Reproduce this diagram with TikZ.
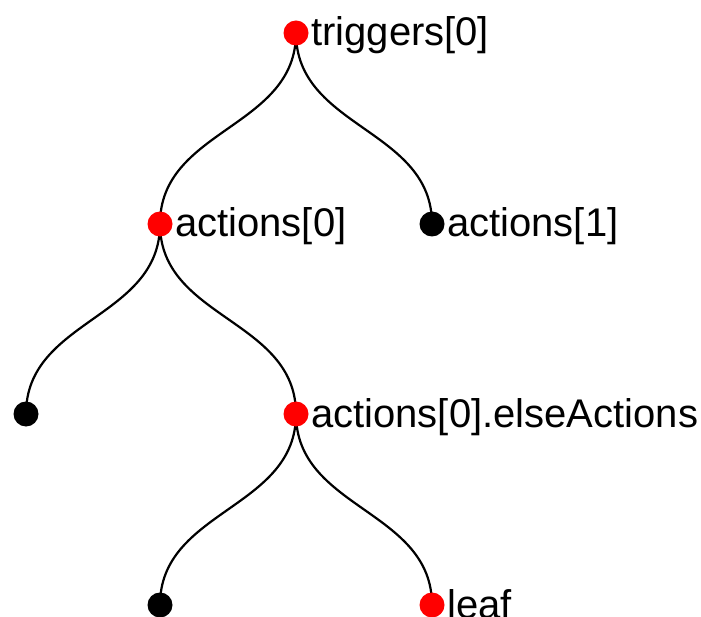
\documentclass[tikz,border=0pt]{standalone}
\usepackage{fontspec}
\setmainfont{Liberation Sans}
\begin{document}
\begin{tikzpicture}[x=1pt,y=-1pt,
  dotred/.style={circle,fill=red,inner sep=0pt,minimum size=25pt},
  dotblack/.style={circle,fill=black,inner sep=0pt,minimum size=25pt},
  lbl/.style={anchor=base west,inner sep=0pt,font=\fontsize{40}{41}\selectfont},
  link/.style={line width=2.2pt,black}]
\useasboundingbox (0,0) rectangle (701,617);
% coordinates
\coordinate (t0) at (296,33);
\coordinate (a0) at (160,224);
\coordinate (a1) at (432,224);
\coordinate (l1) at (26,414);
\coordinate (ea) at (296,414);
\coordinate (l2) at (160,605);
\coordinate (lf) at (432,605);
% links
\draw[link] (t0) .. controls (296,128.5) and (160,128.5) .. (a0);
\draw[link] (t0) .. controls (296,128.5) and (432,128.5) .. (a1);
\draw[link] (a0) .. controls (160,319) and (26,319) .. (l1);
\draw[link] (a0) .. controls (160,319) and (296,319) .. (ea);
\draw[link] (ea) .. controls (296,509.5) and (160,509.5) .. (l2);
\draw[link] (ea) .. controls (296,509.5) and (432,509.5) .. (lf);
% dots
\node[dotred] (n0) at (t0) {};
\node[dotred] (n1) at (a0) {};
\node[dotblack] (n2) at (a1) {};
\node[dotblack] (n3) at (l1) {};
\node[dotred] (n4) at (ea) {};
\node[dotblack] (n5) at (l2) {};
\node[dotred] (n6) at (lf) {};
% labels
\node[lbl] (L0) at (311,46) {triggers[0]};
\node[lbl] (L1) at (175,237) {actions[0]};
\node[lbl] (L2) at (447,237) {actions[1]};
\node[lbl] (L4) at (311,427) {actions[0].elseActions};
\node[lbl] (L6) at (447,618) {leaf};
\end{tikzpicture}
\end{document}
